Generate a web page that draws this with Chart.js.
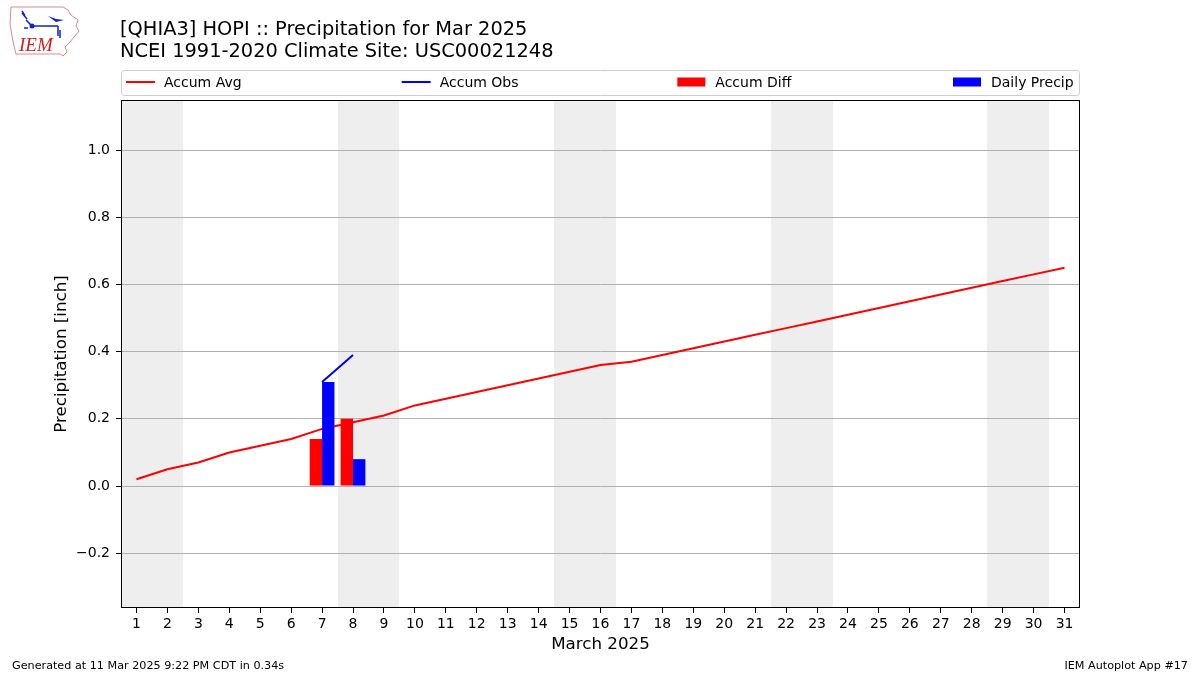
<!DOCTYPE html>
<html>
<head>
<meta charset="utf-8">
<script src="https://cdn.jsdelivr.net/npm/chart.js@4"></script>
<style>
  html, body { margin: 0; padding: 0; background: #fff; }
  #wrap { position: relative; width: 1200px; height: 675px; font-family: "DejaVu Sans", sans-serif; }
  #chart { position: absolute; left: 0; top: 0; }
  .title { position: absolute; left: 120px; font-size: 19.4px; color: #000; white-space: nowrap; line-height: 22px; }
  .foot { position: absolute; top: 659px; font-size: 11.2px; color: #000; white-space: nowrap; }
  #logo { position: absolute; left: 8px; top: 4px; }
</style>
</head>
<body>
<div id="wrap">
  <canvas id="chart" width="1200" height="675"></canvas>
  <svg id="logo" width="74" height="56" viewBox="0 0 74 56">
    <path d="M3,3 L55,3 L60,6 L63,11 L70,16 L68,22 L71,27 L66,33 L62,38 L57,43 L59,48 L55,52 L52,50 L8,50 L6,42 L4,32 L2,20 Z" fill="none" stroke="#d88" stroke-width="1"/>
    <path d="M14,7 L17,12 M14,9 L19,15 M18,16 L24,22 M24,22 L50,22 M50,22 L50,32 M52,26 L52,34" stroke="#1020d0" stroke-width="1.5" fill="none"/>
    <circle cx="24" cy="22" r="2.5" fill="#1020d0"/>
    <path d="M40,12 L48,15 L56,16 L48,18 Z" fill="#1020d0"/>
    <circle cx="17" cy="24" r="1" fill="#1020d0"/>
    <circle cx="19" cy="24" r="1" fill="#1020d0"/>
    <text x="11" y="47" font-family="Liberation Serif, serif" font-style="italic" font-size="19" fill="#d02020">IEM</text>
  </svg>
  <div class="title" style="top:18px;">[QHIA3] HOPI :: Precipitation for Mar 2025</div>
  <div class="title" style="top:40px;">NCEI 1991-2020 Climate Site: USC00021248</div>
  <div class="foot" style="left:12px;">Generated at 11 Mar 2025 9:22 PM CDT in 0.34s</div>
  <div class="foot" style="right:12px;">IEM Autoplot App #17</div>
</div>
<script>
// days of March 2025
const days = [];
for (let d = 1; d <= 31; d++) days.push(String(d));

// climatology accumulated average (inch)
const accumAvg = [0.02, 0.05, 0.07, 0.10, 0.12, 0.14, 0.17, 0.19, 0.21, 0.24,
  0.26, 0.28, 0.30, 0.32, 0.34, 0.36, 0.37, 0.39, 0.41, 0.43,
  0.45, 0.47, 0.49, 0.51, 0.53, 0.55, 0.57, 0.59, 0.61, 0.63, 0.65];

// observed values (only the 7th and 8th have data)
const accumObs = [null, null, null, null, null, null, 0.31, 0.39, null, null,
  null, null, null, null, null, null, null, null, null, null,
  null, null, null, null, null, null, null, null, null, null, null];
const accumDiff = [null, null, null, null, null, null, 0.14, 0.20, null, null,
  null, null, null, null, null, null, null, null, null, null,
  null, null, null, null, null, null, null, null, null, null, null];
const dailyPrecip = [null, null, null, null, null, null, 0.31, 0.08, null, null,
  null, null, null, null, null, null, null, null, null, null,
  null, null, null, null, null, null, null, null, null, null, null];

// weekends: Saturday index (Sat + Sun shaded)
const weekendStart = [0, 7, 14, 21, 28];

const yTicks = [-0.2, 0.0, 0.2, 0.4, 0.6, 0.8, 1.0];

const legendItems = [
  { label: 'Accum Avg', color: '#ff0000', kind: 'line' },
  { label: 'Accum Obs', color: '#0000ff', kind: 'line' },
  { label: 'Accum Diff', color: '#ff0000', kind: 'rect' },
  { label: 'Daily Precip', color: '#0000ff', kind: 'rect' }
];

const FONT = '"DejaVu Sans", sans-serif';

// --- plugin: weekend shading, frame and legend ---
const decor = {
  id: 'decor',
  beforeDraw(chart) {
    const { ctx, chartArea, scales } = chart;
    const x = scales.x;
    const half = (x.getPixelForValue(1) - x.getPixelForValue(0)) / 2;
    ctx.save();
    ctx.fillStyle = '#eeeeee';
    weekendStart.forEach(i => {
      const x0 = Math.round(x.getPixelForValue(i) - half);
      const x1 = Math.round(x.getPixelForValue(i + 1) + half);
      ctx.fillRect(x0, chartArea.top, x1 - x0, chartArea.bottom - chartArea.top);
    });
    ctx.restore();
  },
  afterDraw(chart) {
    const { ctx, chartArea } = chart;
    ctx.save();
    // frame
    ctx.strokeStyle = '#000';
    ctx.lineWidth = 1;
    ctx.strokeRect(chartArea.left + 0.5, chartArea.top + 0.5,
      chartArea.right - chartArea.left - 1, chartArea.bottom - chartArea.top - 1);

    // legend box
    const bx = chartArea.left, by = 70, bw = chartArea.right - chartArea.left, bh = 25;
    ctx.beginPath();
    ctx.roundRect(bx + 0.5, by + 0.5, bw - 1, bh, 3);
    ctx.fillStyle = 'rgba(255,255,255,0.8)';
    ctx.fill();
    ctx.strokeStyle = '#cccccc';
    ctx.stroke();

    const colW = (bw - 132) / 3;
    ctx.font = '14px ' + FONT;
    ctx.textBaseline = 'middle';
    legendItems.forEach((it, i) => {
      const lx = bx + 5 + i * colW;
      const cy = by + 12;
      if (it.kind === 'line') {
        ctx.strokeStyle = it.color;
        ctx.lineWidth = 2;
        ctx.beginPath();
        ctx.moveTo(lx, cy);
        ctx.lineTo(lx + 29, cy);
        ctx.stroke();
      } else {
        ctx.fillStyle = it.color;
        ctx.fillRect(lx, cy - 4.5, 28, 9);
      }
      ctx.fillStyle = '#000';
      ctx.fillText(it.label, lx + 38, cy + 1);
    });
    ctx.restore();
  }
};

new Chart(document.getElementById('chart'), {
  type: 'bar',
  data: {
    labels: days,
    datasets: [
      {
        type: 'bar', label: 'Accum Diff', data: accumDiff,
        backgroundColor: '#ff0000', categoryPercentage: 0.8, barPercentage: 1.0, order: 0
      },
      {
        type: 'bar', label: 'Daily Precip', data: dailyPrecip,
        backgroundColor: '#0000ff', categoryPercentage: 0.8, barPercentage: 1.0, order: 0
      },
      {
        type: 'line', label: 'Accum Avg', data: accumAvg,
        borderColor: '#ff0000', borderWidth: 2, pointRadius: 0, tension: 0, order: 1
      },
      {
        type: 'line', label: 'Accum Obs', data: accumObs,
        borderColor: '#0000ff', borderWidth: 2, pointRadius: 0, tension: 0, spanGaps: false, order: 1
      }
    ]
  },
  options: {
    responsive: false,
    animation: false,
    layout: { padding: { left: 0, top: 100, right: 120, bottom: 0 } },
    plugins: { legend: { display: false }, title: { display: false }, tooltip: { enabled: false } },
    scales: {
      x: {
        offset: true,
        grid: { display: true, drawOnChartArea: false, offset: false, tickLength: 5, tickColor: '#000', tickWidth: 1 },
        border: { display: false },
        ticks: { color: '#000', font: { family: FONT, size: 14 }, padding: 3, maxRotation: 0, autoSkip: false },
        title: { display: true, text: 'March 2025', color: '#000', font: { family: FONT, size: 16.7 }, padding: { top: 0, bottom: 20 } },
        afterFit(s) { s.height = 67; }
      },
      y: {
        min: -0.363,
        max: 1.149,
        afterBuildTicks(s) { s.ticks = yTicks.map(v => ({ value: v })); },
        grid: { color: '#b0b0b0', lineWidth: 1, tickLength: 5, tickColor: '#000' },
        border: { display: false },
        ticks: {
          color: '#000', font: { family: FONT, size: 14 }, padding: 6,
          callback: v => (v < 0 ? '\u2212' : '') + Math.abs(v).toFixed(1)
        },
        title: { display: true, text: 'Precipitation [inch]', color: '#000', font: { family: FONT, size: 16.7 }, padding: { top: 52, bottom: 0 } },
        afterFit(s) { s.width = 121; }
      }
    }
  },
  plugins: [decor]
});
</script>
</body>
</html>
